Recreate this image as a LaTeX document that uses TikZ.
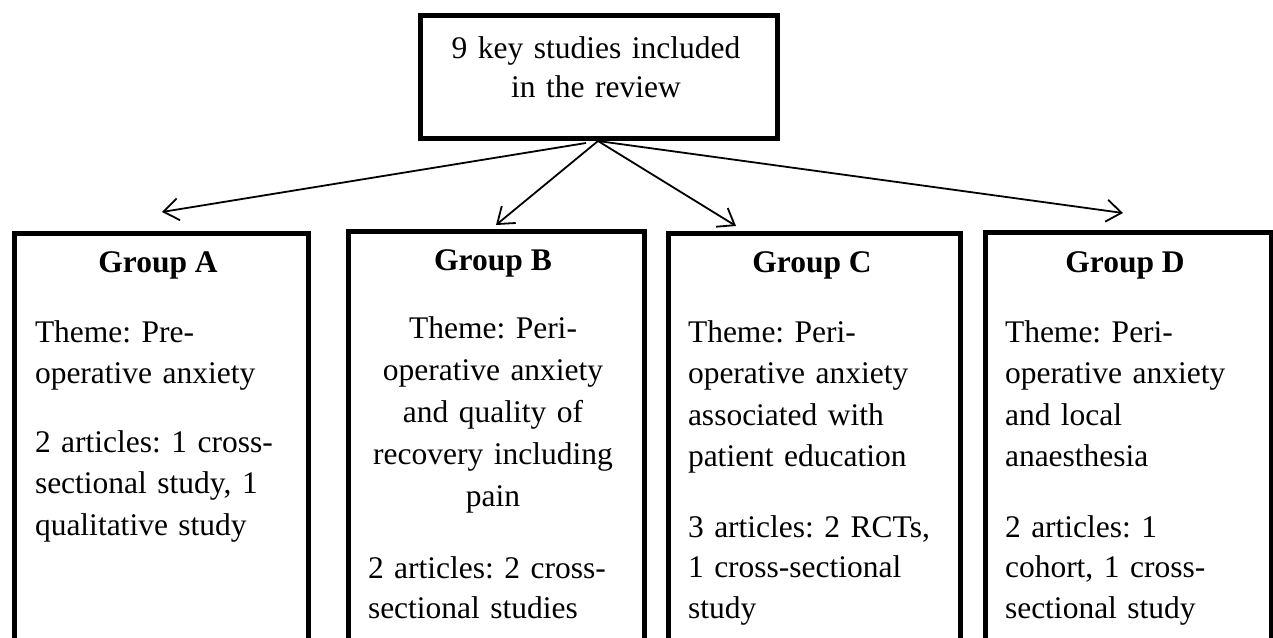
\documentclass[tikz,border=0pt]{standalone}
\usepackage{fontspec}
\setmainfont{Liberation Serif}
\usetikzlibrary{arrows.meta}
\tikzset{
  frame/.style={draw=black, line width=5pt, rectangle, inner sep=0pt, anchor=north west, fill=none},
  para/.style={inner sep=0pt, outer sep=0pt, anchor=base west, text width=290pt, align=left,
    font=\fontsize{31.5}{41.5}\selectfont},
  cpara/.style={inner sep=0pt, outer sep=0pt, anchor=base, text width=290pt, align=center,
    font=\fontsize{31.5}{42}\selectfont},
  title/.style={inner sep=0pt, outer sep=0pt, anchor=base, font=\fontsize{31.5}{41.5}\selectfont\bfseries},
  link/.style={line width=1.8pt, -{Straight Barb[length=15pt,width=22pt,line width=1.8pt]}}
}
\begin{document}
\frenchspacing
\begin{tikzpicture}[x=1pt,y=-1pt]
\useasboundingbox (0,0) rectangle (1273,637);
\clip (0,0) rectangle (1273,637);
% boxes
\node[frame, minimum width=357pt, minimum height=122.5pt] (top) at (418,13) {};
\node[frame, minimum width=293.5pt, minimum height=480pt] (A) at (12,230.5) {};
\node[frame, minimum width=296pt, minimum height=480pt] (B) at (345.5,228.5) {};
\node[frame, minimum width=292.5pt, minimum height=480pt] (C) at (665.5,230.5) {};
\node[frame, minimum width=286.5pt, minimum height=480pt] (D) at (982.5,230) {};
% top text
\node[cpara, font=\fontsize{31.5}{39.5}\selectfont] (toptext) at (596,58) {9 key studies included\\in the review};
% group A
\node[title] (At) at (158,272) {Group A};
\node[para] (Ath) at (35,342) {Theme: Pre-\\operative anxiety};
\node[para] (Aar) at (35,452) {2 articles: 1 cross-\\sectional study, 1\\qualitative study};
% group B
\node[title] (Bt) at (493,270) {Group B};
\node[cpara] (Bth) at (493,338) {Theme: Peri-\\operative anxiety\\and quality of\\recovery including\\pain};
\node[para, font=\fontsize{31.5}{40}\selectfont] (Bar) at (368,578) {2 articles: 2 cross-\\sectional studies};
% group C
\node[title] (Ct) at (812,272) {Group C};
\node[para] (Cth) at (688,342) {Theme: Peri-\\operative anxiety\\associated with\\patient education};
\node[para, font=\fontsize{31.5}{40.5}\selectfont] (Car) at (688,537) {3 articles: 2 RCTs,\\1 cross-sectional\\study};
% group D
\node[title] (Dt) at (1125,272) {Group D};
\node[para] (Dth) at (1005,342) {Theme: Peri-\\operative anxiety\\and local\\anaesthesia};
\node[para, font=\fontsize{31.5}{40.5}\selectfont] (Dar) at (1005,537) {2 articles: 1\\cohort, 1 cross-\\sectional study};
% connectors
\coordinate (o1) at (586,143);
\coordinate (o2) at (598,141);
\coordinate (tA) at (162,212);
\coordinate (tB) at (496,225);
\coordinate (tC) at (736,226);
\coordinate (tD) at (1123,213);
\draw[link] (o1) -- (tA);
\draw[link] (o2) -- (tB);
\draw[link] (o2) -- (tC);
\draw[link] (o2) -- (tD);
\end{tikzpicture}
\end{document}
